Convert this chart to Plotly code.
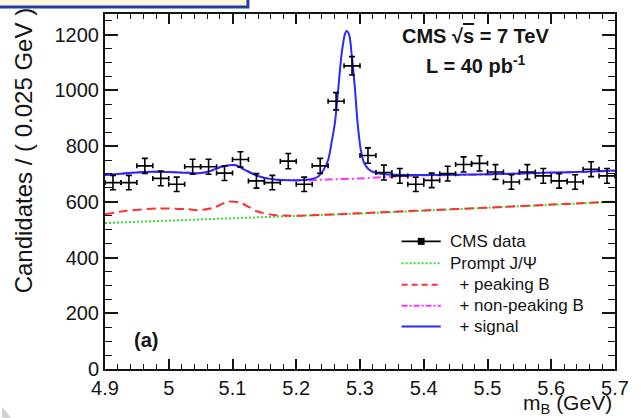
import numpy as np
import plotly.graph_objects as go

# ---- data: B candidates per 0.025 GeV bin ----
bin_centers = [4.9125, 4.9375, 4.9625, 4.9875, 5.0125, 5.0375, 5.0625, 5.0875,
               5.1125, 5.1375, 5.1625, 5.1875, 5.2125, 5.2375, 5.2625, 5.2875,
               5.3125, 5.3375, 5.3625, 5.3875, 5.4125, 5.4375, 5.4625, 5.4875,
               5.5125, 5.5375, 5.5625, 5.5875, 5.6125, 5.6375, 5.6625, 5.6875]
counts = [669, 669, 729, 684, 663, 726, 726, 703,
          752, 675, 669, 746, 663, 729, 961, 1088,
          766, 705, 693, 663, 677, 701, 734, 738,
          707, 671, 707, 693, 675, 671, 717, 693]
bin_half_width = 0.0125

# ---- fit components (stacked) ----
prompt_x = [4.9, 5.0, 5.1, 5.2, 5.3, 5.4, 5.5, 5.6, 5.7]
prompt_y = [524, 532, 540, 549, 558, 568, 578, 589, 600]

peaking_x = [4.9, 4.934, 4.984, 5.026, 5.046, 5.072, 5.092, 5.110, 5.127,
             5.138, 5.164, 5.18, 5.2, 5.3, 5.4, 5.5, 5.6, 5.7]
peaking_y = [555, 568, 576, 574, 570, 580, 600, 598, 580,
             566, 553, 551, 550, 559, 569, 579, 590, 601]

nonpeak_x = [4.9, 4.93, 4.96, 5.0, 5.03, 5.05, 5.065, 5.08, 5.095, 5.105, 5.12,
             5.135, 5.15, 5.17, 5.19, 5.21, 5.25, 5.3, 5.35, 5.4, 5.45, 5.5,
             5.55, 5.6, 5.65, 5.7]
nonpeak_y = [696, 702, 707, 707, 704, 703, 710, 724, 731, 731, 714,
             697, 686, 679, 677, 677, 680, 684, 690, 695, 696, 698,
             701, 704, 707, 711]

signal_x = [4.9, 4.93, 4.96, 5.0, 5.03, 5.05, 5.065, 5.08, 5.095, 5.105, 5.12,
            5.135, 5.15, 5.17, 5.19, 5.21, 5.225, 5.235, 5.243, 5.25, 5.256,
            5.261, 5.266, 5.271, 5.276, 5.279, 5.283, 5.287, 5.292, 5.296,
            5.301, 5.306, 5.313, 5.322, 5.335, 5.36, 5.4, 5.45, 5.5, 5.55,
            5.6, 5.65, 5.7]
signal_y = [696, 702, 707, 707, 704, 703, 710, 724, 731, 731, 714,
            697, 686, 679, 677, 678, 682, 692, 715, 750, 820,
            890, 1008, 1127, 1199, 1213, 1199, 1127, 1008, 889,
            790, 742, 718, 706, 700, 697, 696, 697, 699, 702,
            705, 708, 712]

# ---- axis ticks ----
x_ticks = [4.9, 5.0, 5.1, 5.2, 5.3, 5.4, 5.5, 5.6, 5.7]
x_tick_labels = ["4.9", "5", "5.1", "5.2", "5.3", "5.4", "5.5", "5.6", "5.7"]
y_ticks = [0, 200, 400, 600, 800, 1000, 1200]
y_tick_labels = ["0", "200", "400", "600", "800", "1000", "1200"]

legend_labels = ["CMS data", "Prompt J/\u03a8", "  + peaking B",
                 "  + non-peaking B", "  + signal"]

# ---- page geometry (pixels) ----
W, H = 641, 418
L, R, T, B = 105, 626, 13, 369
FONT = "Liberation Sans, Arial, sans-serif"
INK = "#151515"


def fx(xp):
    return (xp - L) / (R - L)


def fy(yp):
    return (B - yp) / (B - T)


fig = go.Figure()

fig.add_trace(go.Scatter(x=prompt_x, y=prompt_y, mode="lines",
                         line=dict(color="#33dd33", width=2, dash="2px,2px"),
                         showlegend=False, hoverinfo="skip"))
fig.add_trace(go.Scatter(x=peaking_x, y=peaking_y, mode="lines",
                         line=dict(color="#ff3030", width=2, dash="9px,5px",
                                   shape="spline", smoothing=0.8),
                         showlegend=False, hoverinfo="skip"))
fig.add_trace(go.Scatter(x=nonpeak_x, y=nonpeak_y, mode="lines",
                         line=dict(color="#ff33ff", width=2, dash="8px,3px,2px,3px",
                                   shape="spline", smoothing=0.8),
                         showlegend=False, hoverinfo="skip"))
fig.add_trace(go.Scatter(x=signal_x, y=signal_y, mode="lines",
                         line=dict(color="#2a2aff", width=2,
                                   shape="spline", smoothing=0.8),
                         showlegend=False, hoverinfo="skip"))
fig.add_trace(go.Scatter(x=bin_centers, y=counts, mode="markers",
                         marker=dict(size=1, color="black"),
                         error_x=dict(type="constant", value=bin_half_width,
                                      color="black", thickness=1.6, width=2.5),
                         error_y=dict(type="data", array=np.sqrt(counts),
                                      color="black", thickness=1.6, width=3),
                         showlegend=False))

axis_common = dict(showline=True, linecolor=INK, linewidth=2, mirror="ticks",
                   ticks="inside", tickcolor=INK, tickwidth=1.6,
                   showgrid=False, zeroline=False,
                   tickfont=dict(family=FONT, size=20, color=INK))

fig.update_xaxes(range=[4.9, 5.7], tickvals=x_ticks, ticktext=x_tick_labels,
                 ticklen=10,
                 minor=dict(dtick=0.02, tick0=4.9, ticks="inside", ticklen=5,
                            tickwidth=1.4, tickcolor=INK),
                 **axis_common)
fig.update_yaxes(range=[0, 1274], tickvals=y_ticks, ticktext=y_tick_labels,
                 ticklen=13,
                 minor=dict(dtick=50, tick0=0, ticks="inside", ticklen=7,
                            tickwidth=1.4, tickcolor=INK),
                 **axis_common)

annotations = [
    dict(text="Candidates / ( 0.025 GeV )", x=fx(22), y=fy(150), textangle=-90,
         font=dict(family=FONT, size=24, color=INK)),
    dict(text="m<sub>B</sub> (GeV)", x=fx(625), y=fy(404), xanchor="right",
         font=dict(family=FONT, size=21, color=INK)),
    dict(text="<b>CMS \u221a<span style='text-decoration:overline'>s</span> = 7 TeV</b>",
         x=fx(483), y=fy(35), font=dict(family=FONT, size=20, color=INK)),
    dict(text="<b>L = 40 pb<sup>-1</sup></b>", x=fx(484), y=fy(64),
         font=dict(family=FONT, size=20, color=INK)),
    dict(text="<b>(a)</b>", x=fx(147), y=fy(340),
         font=dict(family=FONT, size=20, color=INK)),
]

# legend block
leg_rows = [241, 263, 284.5, 305.5, 326.5]
leg_styles = [None,
              dict(color="#33dd33", width=2, dash="2px,2px"),
              dict(color="#ff3030", width=2, dash="6px,4px"),
              dict(color="#ff33ff", width=2, dash="6px,2px,2px,2px"),
              dict(color="#2a2aff", width=2)]
shapes = []
for row, label, style in zip(leg_rows, legend_labels, leg_styles):
    line_style = style if style else dict(color="black", width=1.8)
    shapes.append(dict(type="line", xref="paper", yref="paper",
                       x0=fx(408), x1=fx(448), y0=fy(row), y1=fy(row),
                       line=line_style))
    annotations.append(dict(text=label.replace(" ", "&nbsp;"), x=fx(455), y=fy(row),
                            xanchor="left",
                            font=dict(family=FONT, size=17, color=INK)))
shapes.append(dict(type="rect", xref="paper", yref="paper",
                   x0=fx(424.5), x1=fx(431.5), y0=fy(244.5), y1=fy(237.5),
                   fillcolor="black", line=dict(width=0)))

# slide frame fragments at the page edges
shapes.append(dict(type="rect", xref="paper", yref="paper", layer="above",
                   x0=fx(-10), x1=fx(251), y0=fy(6), y1=fy(-10),
                   fillcolor="#fff7dc", line=dict(color="#1f3f9f", width=3)))
shapes.append(dict(type="path", xref="paper", yref="paper",
                   path=f"M {fx(0)},{fy(407)} L {fx(9)},{fy(418)} L {fx(0)},{fy(418)} Z",
                   fillcolor="#cfcfcf", line=dict(width=0)))

for a in annotations:
    a.setdefault("xref", "paper")
    a.setdefault("yref", "paper")
    a.setdefault("showarrow", False)
    a.setdefault("xanchor", "center")
    a.setdefault("yanchor", "middle")

fig.update_layout(width=W, height=H, autosize=False,
                  margin=dict(l=L, r=W - R, t=T, b=H - B),
                  paper_bgcolor="white", plot_bgcolor="white",
                  annotations=annotations, shapes=shapes,
                  showlegend=False)

fig.write_html("out.html")
